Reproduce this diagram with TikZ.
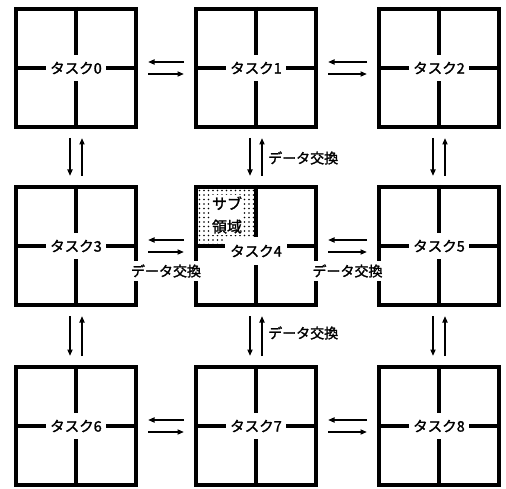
\documentclass[tikz,border=0pt]{standalone}
\usepackage{fontspec}
\newfontfamily\jp[AutoFakeBold=1.6]{Noto Sans CJK JP}
\usetikzlibrary{arrows.meta,calc}

\begin{document}
\begin{tikzpicture}[x=1pt,y=-1pt,
  taskbox/.style={draw, line width=4pt, minimum width=120pt, minimum height=118pt, inner sep=0pt},
  divider/.style={line width=4pt},
  tasklabel/.style={fill=white, font=\jp\bfseries\fontsize{14.5}{16}\selectfont, inner xsep=4pt, inner ysep=0pt, minimum height=26pt},
  xchg/.style={font=\jp\bfseries\fontsize{14}{16}\selectfont, inner sep=1pt},
  arr/.style={line width=1.8pt, -{Triangle[length=6.5pt,width=5pt]}, shorten >=10pt, shorten <=10pt},
  varr/.style={line width=1.8pt, -{Triangle[length=6.5pt,width=5pt]}, shorten >=9pt, shorten <=9pt},
  dot/.style={fill=black, circle, inner sep=0pt, minimum size=1.6pt}
]
\useasboundingbox (0,0) rectangle (506,489);

% 3 x 3 grid of task domains
\foreach \r/\y in {0/68,1/246,2/426}
  \foreach \c/\x in {0/76,1/256,2/439}{
    \pgfmathtruncatemacro\n{3*\r+\c}
    \node[taskbox] (t\n) at (\x,\y) {};
    \draw[divider] (t\n.north) -- (t\n.south);
    \draw[divider] (t\n.west) -- (t\n.east);
  }

% dotted sub-domain in the upper-left quarter of task 4
\begin{scope}
  \clip (198,189) rectangle (254,244);
  \foreach \i in {0,...,12}
    \foreach \j in {0,...,12}
      \node[dot] at (199.5+4.5*\i, 190.5+4.5*\j) {};
\end{scope}
\node[fill=white, font=\jp\bfseries\fontsize{15}{23}\selectfont, align=center, inner xsep=1pt, inner ysep=1pt] (sub) at (227,215) {サブ\\領域};

% task labels cut the dividers
\foreach \n in {0,1,2,3,5,6,7,8}
  \node[tasklabel] (l\n) at (t\n) {タスク\n};
\node[tasklabel, minimum height=28pt, inner xsep=5pt] (l4) at ([yshift=-5pt]t4.center) {タスク4};

% horizontal exchanges
\foreach \a/\b in {0/1,1/2,3/4,4/5,6/7,7/8}{
  \draw[arr] ([yshift=6pt]t\b.west) -- ([yshift=6pt]t\a.east);
  \draw[arr] ([yshift=-6pt]t\a.east) -- ([yshift=-6pt]t\b.west);
}

% vertical exchanges
\foreach \a/\b in {0/3,1/4,2/5,3/6,4/7,5/8}{
  \draw[varr] ([xshift=-6pt]t\a.south) -- ([xshift=-6pt]t\b.north);
  \draw[varr] ([xshift=6pt]t\b.north) -- ([xshift=6pt]t\a.south);
}

% data exchange labels
\node[xchg, fill=white, inner ysep=3pt] (x34) at ($(t3.east)!.5!(t4.west)+(0,25)$) {データ交換};
\node[xchg, fill=white, inner ysep=3pt] (x45) at ($(t4.east)!.5!(t5.west)+(0,25)$) {データ交換};
\node[xchg, anchor=west] (x14) at ($(t1.south)!.5!(t4.north)+(11,1)$) {データ交換};
\node[xchg, anchor=west] (x47) at ($(t4.south)!.5!(t7.north)+(11,-3)$) {データ交換};
\end{tikzpicture}
\end{document}
